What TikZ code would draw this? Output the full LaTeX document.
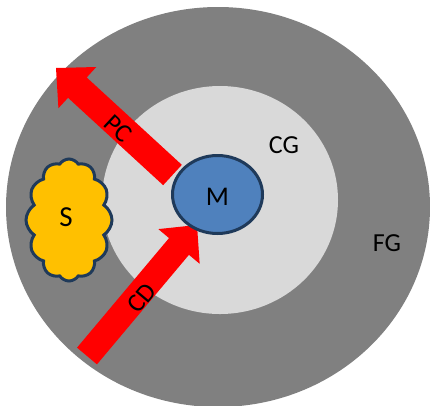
\documentclass[tikz,border=0pt]{standalone}
\usepackage{fontspec}
\setmainfont{Carlito}
\usetikzlibrary{calc,shapes.symbols,shapes.geometric}
\definecolor{outergray}{HTML}{808080}
\definecolor{innergray}{HTML}{D9D9D9}
\definecolor{mblue}{HTML}{4F81BD}
\definecolor{navy}{HTML}{1F3A5A}
\definecolor{cloudyellow}{HTML}{FFC000}
\tikzset{
  lbl/.style={font=\fontsize{26}{26}\selectfont, text=black, inner sep=0pt},
  fatarrow/.style={fill=red, draw=none},
}
\newcommand{\fatarrowpath}[5]{% tail, tip, shaft half width, head half width, head length
  \path[fatarrow] ($(#1)!#3!90:(#2)$) -- ($($(#2)!#5!(#1)$)!#3!90:(#2)$) -- ($($(#2)!#5!(#1)$)!#4!90:(#2)$) -- (#2)
    -- ($($(#2)!#5!(#1)$)!#4!-90:(#2)$) -- ($($(#2)!#5!(#1)$)!#3!-90:(#2)$) -- ($(#1)!#3!-90:(#2)$) -- cycle;}
\begin{document}
\begin{tikzpicture}[x=1pt,y=-1pt]
\useasboundingbox (0,0) rectangle (430,405);
\clip (0,0) rectangle (430,405);
\fill[white] (0,0) rectangle (430,405);
\fill[outergray] (218,207) ellipse [x radius=212, y radius=200];
\fill[innergray] (220,200) ellipse [x radius=118, y radius=114];
\node[lbl] (fg) at (387,243) {FG};
\node[lbl] (cg) at (284,145) {CG};
\node[cloud, cloud puffs=12, cloud puff arc=115, aspect=0.7, minimum width=86pt, minimum height=122pt,
      fill=cloudyellow, draw=navy, line width=3pt, inner sep=0pt] (s) at (69,220) {};
\node[lbl, font=\fontsize{29}{29}\selectfont] at (66,217) {S};
\coordinate (pctail) at (172.5,175);
\coordinate (pctip) at (56,68);
\coordinate (cdtail) at (87,356);
\coordinate (cdtip) at (197,225);
\fatarrowpath{pctail}{pctip}{13.8pt}{28pt}{29pt}
\fatarrowpath{cdtail}{cdtip}{13pt}{27pt}{28pt}
\node[ellipse, minimum width=90pt, minimum height=78pt, fill=mblue, draw=navy, line width=3pt, inner sep=0pt] (m) at (217.5,194.5) {};
\node[lbl, font=\fontsize{27}{27}\selectfont] at (217.5,197) {M};
\node[lbl, rotate=-43] (pc) at (118,129) {PC};
\node[lbl, rotate=50] (cd) at (142,298) {CD};
\end{tikzpicture}
\end{document}
